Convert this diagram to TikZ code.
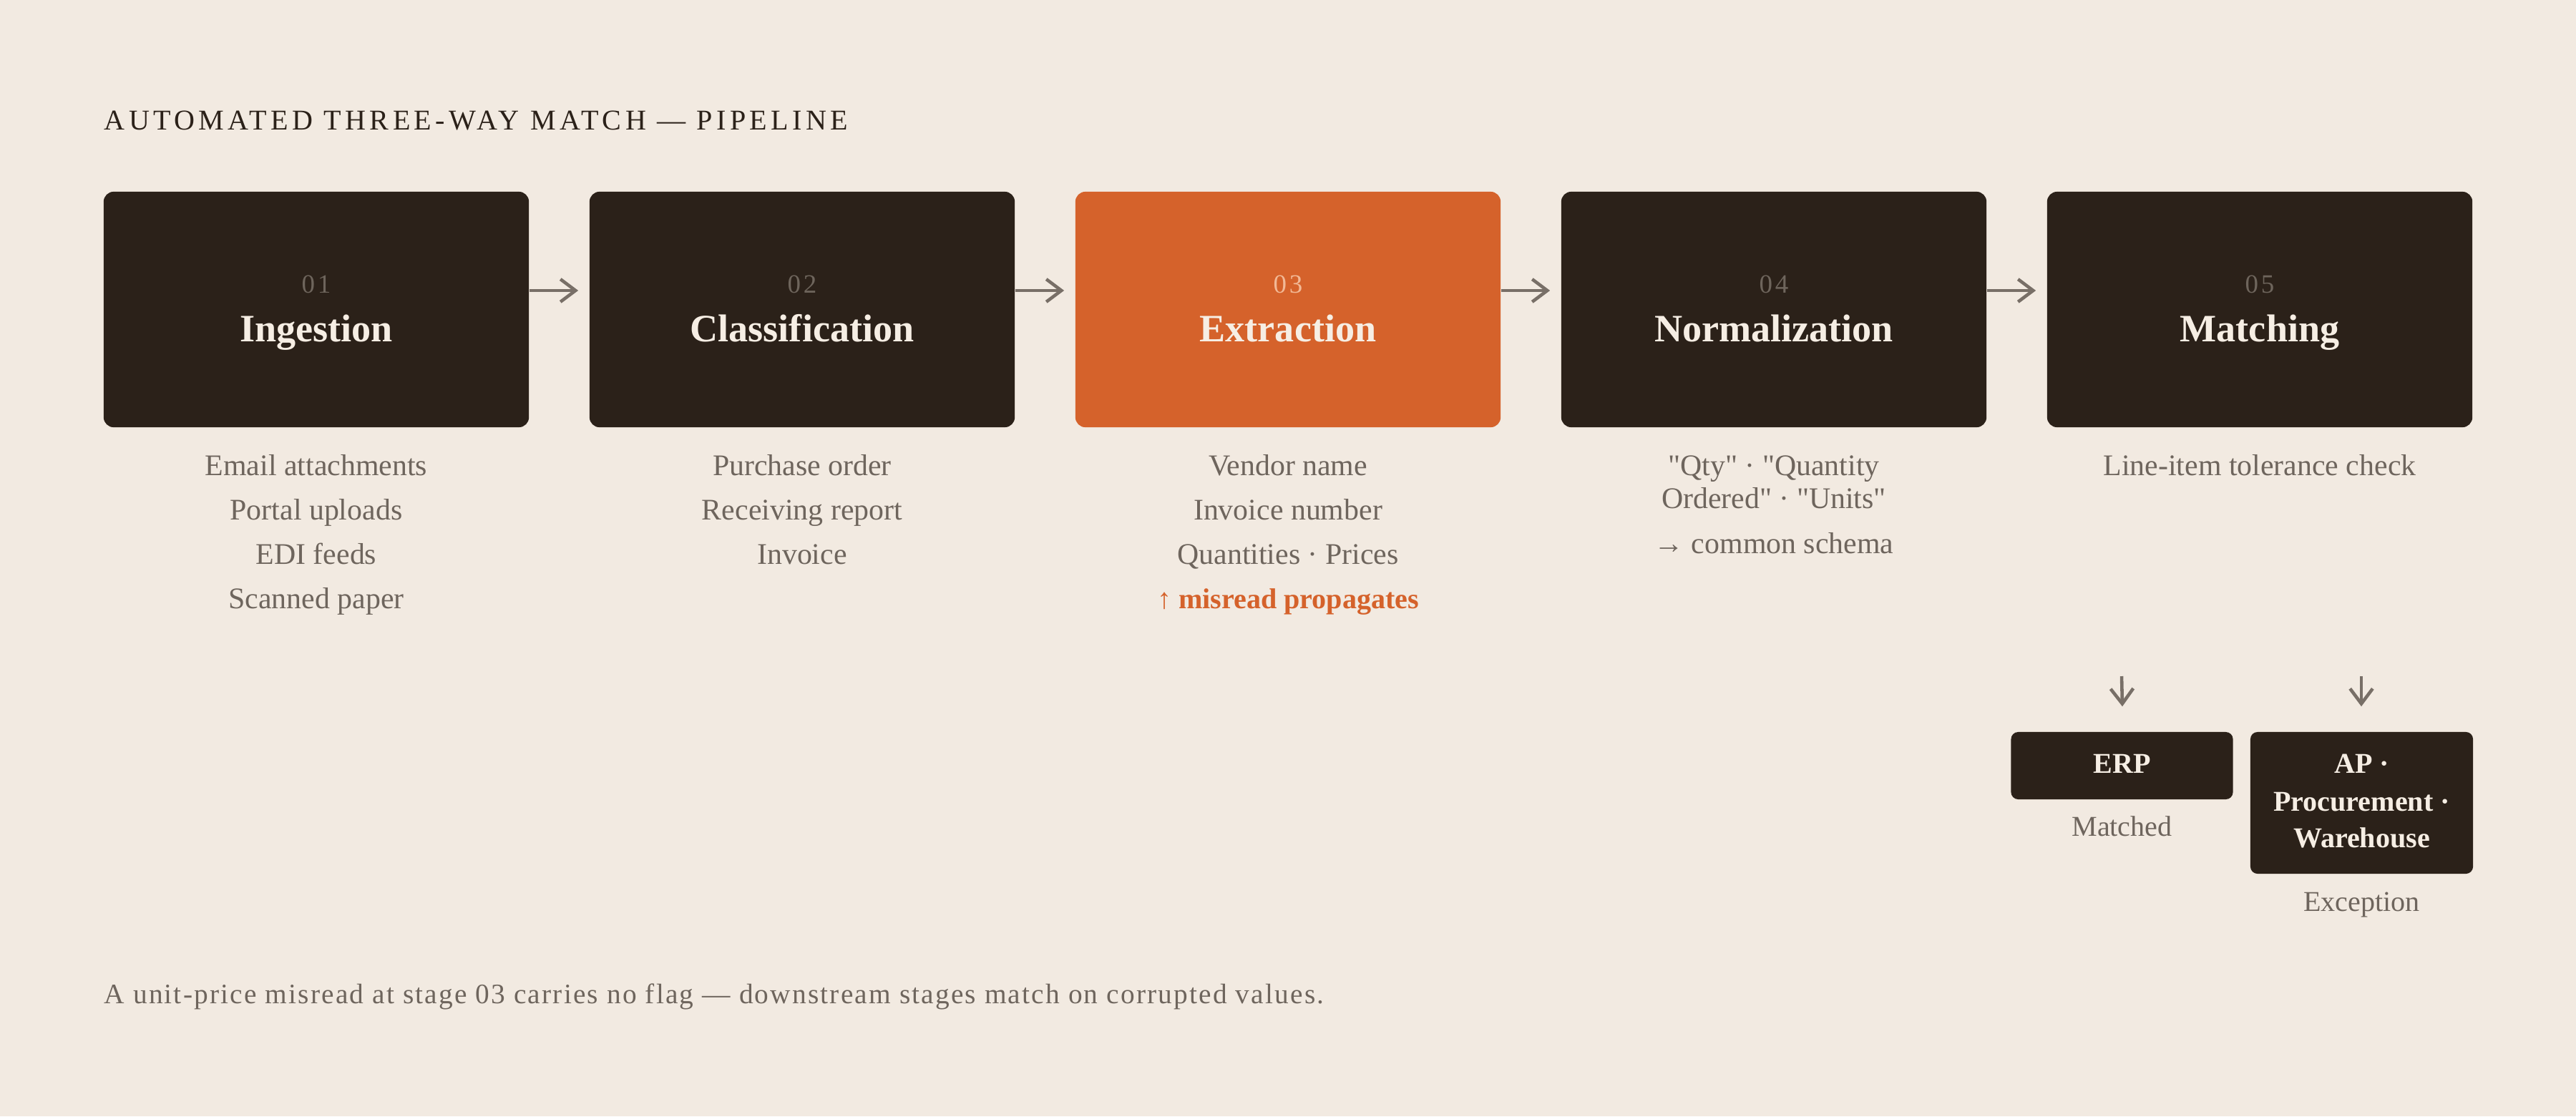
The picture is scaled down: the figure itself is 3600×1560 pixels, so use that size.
\documentclass[tikz,border=0pt]{standalone}
\usepackage{fontspec}
\setmainfont{Liberation Serif}
\newfontfamily\plainserif{Liberation Serif}
\usetikzlibrary{arrows.meta,calc}
\definecolor{bg}{HTML}{F2EAE1}
\definecolor{ink}{HTML}{2B2119}
\definecolor{accent}{HTML}{D5622B}
\definecolor{subgray}{HTML}{6E655D}
\definecolor{arrowgray}{HTML}{786F67}
\definecolor{numdark}{HTML}{6E655C}
\definecolor{numlight}{HTML}{F2B996}
\definecolor{cream}{HTML}{F6EEE4}
\begin{document}
\begin{tikzpicture}[x=0.01cm,y=-0.01cm,
  stagebox/.style={draw=none,fill=ink,rounded corners=0.14cm,minimum width=5.94cm,minimum height=3.29cm,inner sep=0},
  hotbox/.style={stagebox,fill=accent},
  smallbox/.style={draw=none,fill=ink,rounded corners=0.10cm,minimum width=3.10cm,inner sep=0},
  numlbl/.style={anchor=base,inner sep=0,text=numdark,font=\plainserif\fontsize{10.5}{12}\selectfont\addfontfeatures{LetterSpace=10}},
  ttl/.style={anchor=base,inner sep=0,text=cream,font=\plainserif\fontsize{15.4}{18}\selectfont\bfseries},
  sub/.style={anchor=base,inner sep=0,text=subgray,font=\plainserif\fontsize{11.9}{14}\selectfont},
  hot/.style={anchor=base,inner sep=0,text=accent,font=\plainserif\fontsize{11.4}{14}\selectfont\bfseries},
  boxlbl/.style={anchor=base,inner sep=0,text=cream,font=\plainserif\fontsize{11.4}{14}\selectfont\bfseries},
  outlbl/.style={anchor=base,inner sep=0,text=subgray,font=\plainserif\fontsize{11.4}{14}\selectfont},
  flow/.style={draw=arrowgray,line width=1.3pt,-{Straight Barb[length=6pt,width=9pt]}}
]
\fill[bg] (0,0) rectangle (3600,1560);
\useasboundingbox (0,0) rectangle (3600,1560);

% header
\node[anchor=base west,inner sep=0,text=ink,font=\plainserif\fontsize{11.4}{14}\selectfont\addfontfeatures{LetterSpace=13.4}] (hdr) at (145,181) {AUTOMATED THREE-WAY MATCH — PIPELINE};

% stage boxes
\node[stagebox] (b1) at (442,432.5) {};
\node[stagebox] (b2) at (1121,432.5) {};
\node[hotbox]   (b3) at (1800,432.5) {};
\node[stagebox] (b4) at (2479,432.5) {};
\node[stagebox] (b5) at (3158,432.5) {};

\node[numlbl] (n1) at (442,409) {01};
\node[numlbl] (n2) at (1121,409) {02};
\node[numlbl,text=numlight] (n3) at (1800,409) {03};
\node[numlbl] (n4) at (2479,409) {04};
\node[numlbl] (n5) at (3158,409) {05};

\node[ttl] (t1) at (442,477) {Ingestion};
\node[ttl] (t2) at (1121,477) {Classification};
\node[ttl] (t3) at (1800,477) {Extraction};
\node[ttl] (t4) at (2479,477) {Normalization};
\node[ttl] (t5) at (3158,477) {Matching};

% connectors
\draw[flow] ($(b1.east)+(0,-26.5)$) -- ($(b2.west)+(-15,-26.5)$);
\draw[flow] ($(b2.east)+(0,-26.5)$) -- ($(b3.west)+(-15,-26.5)$);
\draw[flow] ($(b3.east)+(0,-26.5)$) -- ($(b4.west)+(-15,-26.5)$);
\draw[flow] ($(b4.east)+(0,-26.5)$) -- ($(b5.west)+(-15,-26.5)$);

% details
\node[sub] (s1a) at (442,664) {Email attachments};
\node[sub] (s1b) at (442,726) {Portal uploads};
\node[sub] (s1c) at (442,788) {EDI feeds};
\node[sub] (s1d) at (442,850) {Scanned paper};

\node[sub] (s2a) at (1121,664) {Purchase order};
\node[sub] (s2b) at (1121,726) {Receiving report};
\node[sub] (s2c) at (1121,788) {Invoice};

\node[sub] (s3a) at (1800,664) {Vendor name};
\node[sub] (s3b) at (1800,726) {Invoice number};
\node[sub] (s3c) at (1800,788) {Quantities · Prices};
\node[hot] (s3d) at (1800,850) {{\mdseries ↑} misread propagates};

\node[sub] (s4a) at (2479,664) {"Qty" · "Quantity};
\node[sub] (s4b) at (2479,710) {Ordered" · "Units"};
\node[sub] (s4c) at (2479,773) {→ common schema};

\node[sub] (s5a) at (3158,664) {Line-item tolerance check};

% outcomes
\node[smallbox,minimum height=0.94cm] (erp) at (2965.5,1070) {};
\node[smallbox,minimum height=1.98cm,minimum width=3.11cm] (ap) at (3300.5,1122) {};
\node[boxlbl] (erpl) at (2965.5,1080) {ERP};
\node[boxlbl] (apl1) at (3300.5,1080) {AP ·};
\node[boxlbl] (apl2) at (3300.5,1133) {Procurement ·};
\node[boxlbl] (apl3) at (3300.5,1184) {Warehouse};
\node[outlbl] (m1) at (2965.5,1168) {Matched};
\node[outlbl] (m2) at (3300.5,1273) {Exception};

\coordinate (d1) at (2965,945);
\coordinate (d2) at (3300,945);
\draw[flow] (d1) -- ($(erp.north)+(0.5,-35)$);
\draw[flow] (d2) -- ($(ap.north)+(-0.5,-35)$);

% footer
\node[anchor=base west,inner sep=0,text=subgray,font=\plainserif\fontsize{11.2}{14}\selectfont\addfontfeatures{LetterSpace=5.5}] (foot) at (145,1402) {A unit-price misread at stage 03 carries no flag — downstream stages match on corrupted values.};
\end{tikzpicture}
\end{document}
